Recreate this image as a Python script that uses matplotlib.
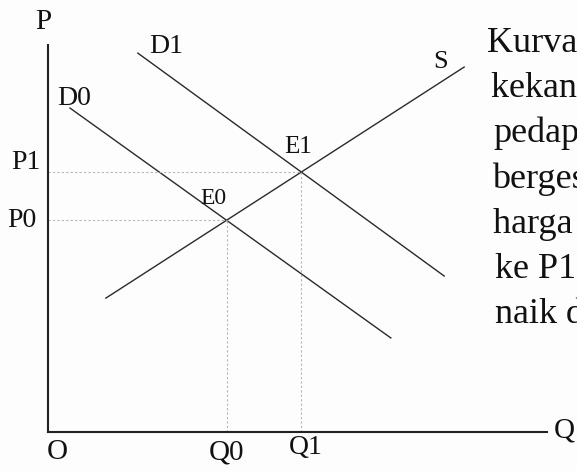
import numpy as np
import matplotlib.pyplot as plt

plt.rcParams['font.family'] = ['Liberation Serif', 'DejaVu Serif']

# curve endpoints (quantity, price), axes run 0..100
d0_q = [4.4, 68.7]
d0_p = [83.7, 24.3]
d1_q = [18.0, 79.4]
d1_p = [97.9, 40.3]
s_q = [11.6, 83.4]
s_p = [34.6, 94.3]

side_text = ['Kurva permintaan', 'kekanan karena', 'pedap',
             'bergeser', 'harga naik', 'ke P1 dan', 'naik dari Q0']
side_x = [487, 491, 493, 492, 493, 495, 495]


def intersect(q1, p1, q2, p2):
    m1 = (p1[1] - p1[0]) / (q1[1] - q1[0])
    m2 = (p2[1] - p2[0]) / (q2[1] - q2[0])
    b1 = p1[0] - m1 * q1[0]
    b2 = p2[0] - m2 * q2[0]
    q = (b2 - b1) / (m1 - m2)
    return q, m1 * q + b1


q0, p0 = intersect(d0_q, d0_p, s_q, s_p)
q1, p1 = intersect(d1_q, d1_p, s_q, s_p)

fig = plt.figure(figsize=(5.77, 4.71), dpi=100)
fig.patch.set_facecolor('#fdfdfd')
ax = fig.add_axes([0.0832, 0.0828, 0.8648, 0.8217])
ax.set_facecolor('#fdfdfd')
ax.set_xlim(0, 100)
ax.set_ylim(0, 100)
for side in ['top', 'right']:
    ax.spines[side].set_visible(False)
for side in ['left', 'bottom']:
    ax.spines[side].set_linewidth(1.5)
    ax.spines[side].set_color('#222222')
ax.set_xticks([])
ax.set_yticks([])

line_kw = dict(color='#2a2a2a', lw=1.0)
ax.plot(d0_q, d0_p, **line_kw)
ax.plot(d1_q, d1_p, **line_kw)
ax.plot(s_q, s_p, **line_kw)

# guides from the equilibria to the axes
guide_kw = dict(color='#b5b5b5', lw=0.8, ls=(0, (2, 2)))
for q, p in [(q0, p0), (q1, p1)]:
    ax.plot([0, q], [p, p], **guide_kw)
    ax.plot([q, q], [0, p], **guide_kw)

txt = dict(color='#111111', clip_on=False, ha='center', va='center')
ax.text(-1.0, 106, 'P', fontsize=21, **txt)
ax.text(103.4, 0.3, 'Q', fontsize=21, **txt)
ax.text(1.8, -5.2, 'O', fontsize=21, **txt)
ax.text(q0, -5.2, 'Q0', fontsize=21, **txt)
ax.text(q1 + 1.0, -4.0, 'Q1', fontsize=20, **txt)
ax.text(-4.5, p1 + 2.5, 'P1', fontsize=20, **txt)
ax.text(-5.3, p0, 'P0', fontsize=20, **txt)
ax.text(q0 - 2.6, p0 + 5.7, 'E0', fontsize=17, **txt)
ax.text(q1 - 0.6, p1 + 6.4, 'E1', fontsize=18, **txt)
ax.text(5.3, 86.3, 'D0', fontsize=20, **txt)
ax.text(23.6, 99.5, 'D1', fontsize=20, **txt)
ax.text(78.6, 95.6, 'S', fontsize=19, **txt)

# explanatory text beside the chart
for i, line in enumerate(side_text):
    y = 52 + 45.2 * i
    fig.text(side_x[i] / 577, 1 - y / 471, line, fontsize=26,
             ha='left', va='baseline', color='#111111')

fig.savefig('out.png', dpi=100, facecolor=fig.get_facecolor())
